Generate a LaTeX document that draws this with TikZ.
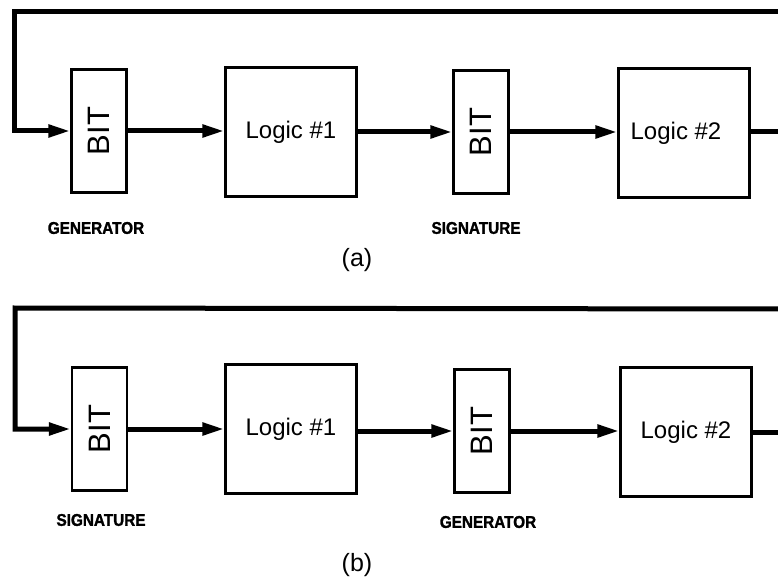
\documentclass[tikz,border=0pt]{standalone}
\usepackage{fontspec}
\setmainfont{Liberation Sans}
\newfontfamily\lblfont[FakeStretch=0.9,FakeBold=1.5]{Liberation Sans}
\usetikzlibrary{arrows.meta}
\begin{document}
\begin{tikzpicture}[x=1pt,y=-1pt,
  bitbox/.style={draw,line width=2.2pt,minimum width=55pt,minimum height=123pt,inner sep=0pt,font=\fontsize{31}{31}\selectfont},
  logicbox/.style={draw,line width=2.2pt,minimum width=131pt,minimum height=129pt,inner sep=0pt},
  logictext/.style={font=\fontsize{24}{24}\selectfont,inner sep=0pt},
  role/.style={font=\lblfont\bfseries\fontsize{17}{17}\selectfont,inner sep=0pt},
  caption/.style={font=\fontsize{25}{25}\selectfont,inner sep=0pt},
  sig/.style={line width=5pt},
  sigarrow/.style={line width=5pt,-{Triangle[length=22pt,width=12pt]}},
  line join=miter]
\useasboundingbox (0,0) rectangle (778,585);
% ---------- (a) ----------
\node[bitbox] (bitA1) at (99,131) {\rotatebox{90}{BIT}};
\node[logicbox] (logA1) at (291,132) {};
\node[logictext] (tA1) at (logA1.center) {Logic \#1};
\node[bitbox] (bitA2) at (481,132) {\rotatebox{90}{BIT}};
\node[logicbox] (logA2) at (684,133) {};
\node[logictext] (tA2) at ([xshift=-8pt]logA2.center) {Logic \#2};
\coordinate (cornerA) at (14,12);
\coordinate (topA) at (780,12);
\coordinate (outA) at (780,132);
\coordinate (inA) at (cornerA |- bitA1.west);
\draw[sigarrow] (topA) -- (cornerA) -- (inA) -- (bitA1.west);
\draw[sigarrow] (bitA1.east) -- (logA1.west |- bitA1.east);
\draw[sigarrow] (logA1.east |- bitA2.west) -- (bitA2.west);
\draw[sigarrow] (bitA2.east) -- (logA2.west |- bitA2.east);
\draw[sig] (logA2.east |- outA) -- (outA);
\node[role] (genA) at (96,228) {GENERATOR};
\node[role] (sigA) at (476,228) {SIGNATURE};
\node[caption] (capA) at (357,260) {(a)};
% ---------- (b) ----------
\node[bitbox] (bitB1) at (99.5,429) {\rotatebox{90}{BIT}};
\node[logicbox] (logB1) at (291,429) {};
\node[logictext] (tB1) at (logB1.center) {Logic \#1};
\node[bitbox] (bitB2) at (482,431) {\rotatebox{90}{BIT}};
\node[logicbox] (logB2) at (686,432) {};
\node[logictext] (tB2) at (logB2.center) {Logic \#2};
\coordinate (cornerB) at (15,308);
\coordinate (topB) at (780,309);
\coordinate (outB) at (780,432);
\coordinate (inB) at (cornerB |- bitB1.west);
\draw[sigarrow] (topB) -- (cornerB) -- (inB) -- (bitB1.west);
\draw[sigarrow] (bitB1.east) -- (logB1.west |- bitB1.east);
\draw[sigarrow] (logB1.east |- bitB2.west) -- (bitB2.west);
\draw[sigarrow] (bitB2.east) -- (logB2.west |- bitB2.east);
\draw[sig] (logB2.east |- outB) -- (outB);
\node[role] (sigB) at (101,520) {SIGNATURE};
\node[role] (genB) at (488,522) {GENERATOR};
\node[caption] (capB) at (357,565) {(b)};
\end{tikzpicture}
\end{document}
